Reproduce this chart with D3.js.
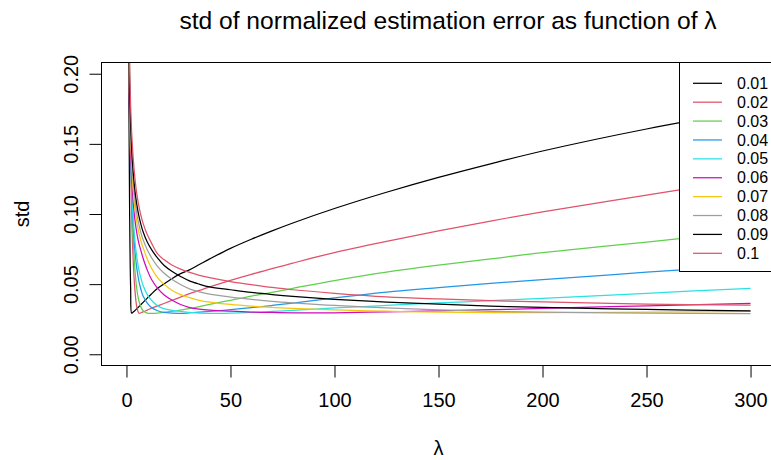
<!DOCTYPE html>
<html>
<head>
<meta charset="utf-8">
<script src="https://cdn.jsdelivr.net/npm/d3@7"></script>
<style>
  html, body { margin: 0; padding: 0; background: #fff; }
  svg { display: block; font-family: "Liberation Sans", Arial, Helvetica, sans-serif; }
</style>
</head>
<body>
<svg id="chart" width="771" height="460"></svg>
<script>
// ---------------- data ----------------
const lambda = [0.5, 1, 1.5, 2, 2.5, 3, 4, 5, 6, 7, 8, 10, 12, 15, 18, 22, 26, 30, 35, 40, 50, 60, 70, 80, 100, 125, 150, 175, 200, 250, 300];

const seriesNames = ["0.01", "0.02", "0.03", "0.04", "0.05", "0.06", "0.07", "0.08", "0.09", "0.1"];
const seriesColors = ["#000000", "#DF536B", "#61D04F", "#2297E6", "#28E2E5", "#CD0BBC", "#F5C710", "#9E9E9E", "#000000", "#DF536B"];

const std001 = [0.40, 0.22, 0.105, 0.048, 0.0293, 0.0298, 0.031, 0.0325, 0.034, 0.0355, 0.037, 0.040, 0.043, 0.047, 0.050, 0.054, 0.0575, 0.060, 0.064, 0.068, 0.0755, 0.082, 0.088, 0.0936, 0.1039, 0.1155, 0.1261, 0.1358, 0.1449, 0.1606, 0.174];
const std002 = [0.50, 0.30, 0.20, 0.14, 0.10, 0.075, 0.047, 0.0335, 0.0293, 0.0296, 0.0302, 0.0315, 0.0328, 0.0345, 0.0362, 0.0385, 0.0408, 0.043, 0.0455, 0.048, 0.0527, 0.057, 0.061, 0.065, 0.0725, 0.0805, 0.088, 0.095, 0.1015, 0.1135, 0.125];
const std003 = [0.50, 0.29, 0.20, 0.15, 0.115, 0.09, 0.062, 0.046, 0.038, 0.0335, 0.031, 0.0293, 0.0292, 0.0294, 0.0299, 0.0306, 0.0314, 0.0325, 0.034, 0.0355, 0.0385, 0.0415, 0.0442, 0.047, 0.0525, 0.0585, 0.0635, 0.068, 0.0725, 0.080, 0.088];
const std004 = [0.45, 0.27, 0.19, 0.145, 0.117, 0.098, 0.075, 0.061, 0.052, 0.046, 0.0415, 0.0365, 0.0333, 0.031, 0.0298, 0.0293, 0.0292, 0.0295, 0.030, 0.0306, 0.0318, 0.0332, 0.0348, 0.0365, 0.0402, 0.0443, 0.0475, 0.0505, 0.0532, 0.0585, 0.0635];
const std005 = [0.42, 0.26, 0.185, 0.145, 0.12, 0.103, 0.082, 0.069, 0.060, 0.054, 0.049, 0.0425, 0.0385, 0.0345, 0.0325, 0.0313, 0.0305, 0.0299, 0.0294, 0.0291, 0.0293, 0.0298, 0.0305, 0.0313, 0.033, 0.0348, 0.0366, 0.0382, 0.0399, 0.0435, 0.047];
const std006 = [0.35, 0.22, 0.17, 0.143, 0.125, 0.113, 0.0967, 0.0862, 0.0789, 0.0735, 0.0685, 0.060, 0.0535, 0.047, 0.0425, 0.0385, 0.0355, 0.0335, 0.0322, 0.0315, 0.0307, 0.0301, 0.0298, 0.0296, 0.0296, 0.0302, 0.031, 0.0318, 0.0327, 0.0345, 0.0362];
const std007 = [0.356, 0.23, 0.18, 0.153, 0.135, 0.122, 0.105, 0.094, 0.0865, 0.0806, 0.076, 0.068, 0.0615, 0.0545, 0.050, 0.0455, 0.0425, 0.0405, 0.0385, 0.0372, 0.0355, 0.0343, 0.0334, 0.0327, 0.0317, 0.0307, 0.0300, 0.0297, 0.0297, 0.0300, 0.0305];
const std008 = [0.348, 0.232, 0.185, 0.158, 0.141, 0.1285, 0.1115, 0.100, 0.0924, 0.0863, 0.0816, 0.0745, 0.069, 0.0625, 0.058, 0.0533, 0.0497, 0.0468, 0.0445, 0.0428, 0.0408, 0.0392, 0.0378, 0.0367, 0.0348, 0.033, 0.0316, 0.0306, 0.030, 0.0293, 0.029];
const std009 = [0.337, 0.2325, 0.188, 0.163, 0.1465, 0.134, 0.1176, 0.1065, 0.0984, 0.0923, 0.0874, 0.080, 0.0748, 0.0685, 0.0635, 0.059, 0.0555, 0.0525, 0.050, 0.048, 0.046, 0.0441, 0.0426, 0.0413, 0.0392, 0.0372, 0.0357, 0.0344, 0.0334, 0.032, 0.031];
const std010 = [0.369, 0.253, 0.205, 0.177, 0.158, 0.145, 0.1265, 0.114, 0.1055, 0.0987, 0.0933, 0.0853, 0.0794, 0.0715, 0.0675, 0.0635, 0.0607, 0.0585, 0.0563, 0.0546, 0.0518, 0.0497, 0.0477, 0.046, 0.0435, 0.041, 0.0395, 0.0383, 0.0373, 0.0358, 0.035];

const xTicks = [0, 50, 100, 150, 200, 250, 300];
const yTicks = [0.00, 0.05, 0.10, 0.15, 0.20];
const titleText = "std of normalized estimation error as function of λ";
const xLabel = "λ";
const yLabel = "std";

// ---------------- layout ----------------
const allSeries = [std001, std002, std003, std004, std005, std006, std007, std008, std009, std010];
const box = { left: 101.5, top: 62.5, right: 775.5, bottom: 365.5 };

const svg = d3.select("#chart");

const x = d3.scaleLinear().domain([-12, 312]).range([box.left, box.right]);
const y = d3.scaleLinear().domain([-0.008, 0.208]).range([box.bottom, box.top]);

svg.append("defs").append("clipPath").attr("id", "plotclip")
  .append("rect")
  .attr("x", box.left).attr("y", box.top)
  .attr("width", box.right - box.left).attr("height", box.bottom - box.top);

// lines
const line = d3.line()
  .x((d, i) => x(lambda[i]))
  .y(d => y(d))
  .curve(d3.curveCatmullRom.alpha(0.5));

const gLines = svg.append("g").attr("clip-path", "url(#plotclip)");
allSeries.forEach((s, k) => {
  gLines.append("path")
    .datum(s)
    .attr("fill", "none")
    .attr("stroke", seriesColors[k])
    .attr("stroke-width", 1.25)
    .attr("stroke-linejoin", "round")
    .attr("d", line);
});

// x axis
const xAxis = d3.axisBottom(x).tickValues(xTicks).tickSize(12).tickFormat(d3.format("d"));
const gx = svg.append("g").attr("transform", `translate(0,${box.bottom})`).call(xAxis);
gx.select(".domain").remove();
gx.selectAll(".tick line").attr("stroke", "#000").attr("stroke-width", 1);
gx.selectAll(".tick text")
  .attr("y", 41).attr("dy", null)
  .attr("fill", "#000")
  .style("font-size", "20px");

// y axis
const yAxis = d3.axisLeft(y).tickValues(yTicks).tickSize(12).tickFormat(d3.format(".2f"));
const gy = svg.append("g").attr("transform", `translate(${box.left},0)`).call(yAxis);
gy.select(".domain").remove();
gy.selectAll(".tick line").attr("stroke", "#000").attr("stroke-width", 1);
gy.selectAll(".tick text")
  .attr("x", null).attr("dy", null)
  .attr("transform", "translate(-24,0) rotate(-90)")
  .attr("text-anchor", "middle")
  .attr("fill", "#000")
  .style("font-size", "20px");

// box
svg.append("rect")
  .attr("x", box.left).attr("y", box.top)
  .attr("width", box.right - box.left).attr("height", box.bottom - box.top)
  .attr("fill", "none").attr("stroke", "#000").attr("stroke-width", 1);

// titles
svg.append("text")
  .attr("x", 448).attr("y", 29)
  .attr("text-anchor", "middle")
  .style("font-size", "24.6px")
  .text(titleText);

svg.append("text")
  .attr("x", (box.left + box.right) / 2).attr("y", 455)
  .attr("text-anchor", "middle")
  .style("font-size", "20px")
  .text(xLabel);

svg.append("text")
  .attr("transform", `translate(29,${(box.top + box.bottom) / 2}) rotate(-90)`)
  .attr("text-anchor", "middle")
  .style("font-size", "20px")
  .text(yLabel);

// legend
const leg = { left: 679.5, top: box.top, bottom: 271.5 };
svg.append("rect")
  .attr("x", leg.left).attr("y", leg.top)
  .attr("width", 120).attr("height", leg.bottom - leg.top)
  .attr("fill", "#fff").attr("stroke", "#000").attr("stroke-width", 1);

const rowY = d3.scaleLinear().domain([0, seriesNames.length - 1]).range([83.3, 253.3]);
const gLeg = svg.append("g");
seriesNames.forEach((name, k) => {
  gLeg.append("line")
    .attr("x1", 693).attr("x2", 722)
    .attr("y1", rowY(k)).attr("y2", rowY(k))
    .attr("stroke", seriesColors[k]).attr("stroke-width", 1.25);
  gLeg.append("text")
    .attr("x", 737).attr("y", rowY(k))
    .attr("dy", "0.35em")
    .style("font-size", "16px")
    .text(name);
});
</script>
</body>
</html>
